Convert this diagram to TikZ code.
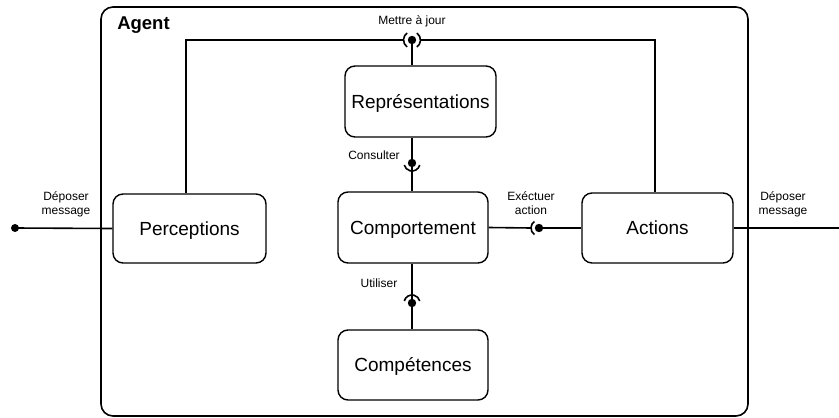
\documentclass[tikz,border=0pt]{standalone}
\usepackage{fontspec}
\setmainfont{Liberation Sans}
\begin{document}
\begin{tikzpicture}[x=1pt,y=-1pt,
  comp/.style={draw, line width=1.4pt, rounded corners=10pt, font=\fontsize{19}{21}\selectfont, inner sep=0pt, text height=13.6pt, text depth=0pt},
  lbl/.style={font=\fontsize{12}{14}\selectfont, align=center},
  wire/.style={line width=1.6pt},
  ballc/.style={fill=black}]
\useasboundingbox (0,0) rectangle (839,418);
% Agent frame
\draw[line width=1.6pt, rounded corners=12pt] (101,7) rectangle (748,416);
\node[font=\bfseries\fontsize{18.5}{20}\selectfont] (agent) at (143.5,25) {Agent};
% components
\node[comp, minimum width=151pt, minimum height=71pt] (rep) at (420.5,101.5) {Représentations};
\node[comp, minimum width=150pt, minimum height=71pt] (comp) at (413,227.5) {Comportement};
\node[comp, minimum width=150pt, minimum height=70pt] (cpt) at (413,365) {Compétences};
\node[comp, minimum width=153pt, minimum height=69pt] (perc) at (189.5,228.5) {Perceptions};
\node[comp, minimum width=151pt, minimum height=70pt] (act) at (657.5,228) {Actions};
% coordinates of ball-and-socket joints
\coordinate (mj) at (412,40);
\coordinate (cs) at (412,163);
\coordinate (ex) at (539,228);
\coordinate (ut) at (412,303);
\coordinate (lin) at (15,228);
\coordinate (rout) at (839,228);
% Mettre a jour
\draw[wire] (perc.north -| 186,0) |- ([xshift=-8.5pt]mj);
\draw[wire] (act.north -| 655,0) |- ([xshift=8.5pt]mj);
\draw[wire] (mj) -- (rep.north -| mj);
\draw[wire] ([shift={(125:8.5)}]mj) arc[start angle=125, end angle=235, radius=8.5];
\draw[wire] ([shift={(-55:8.5)}]mj) arc[start angle=-55, end angle=55, radius=8.5];
\fill[ballc] (mj) circle (4.2);
\node[lbl] (lmj) at (412,21) {Mettre à jour};
% Consulter
\draw[wire] (rep.south -| cs) -- (cs);
\draw[wire] ([shift={(15:8)}]cs) arc[start angle=15, end angle=165, radius=8];
\draw[wire] ([yshift=8pt]cs) -- (comp.north -| cs);
\fill[ballc] (cs) circle (4.2);
\node[lbl] (lcs) at (374,155) {Consulter};
% Executer action
\draw[wire] (comp.east) -- ([xshift=-8pt]ex);
\draw[wire] ([shift={(125:8)}]ex) arc[start angle=125, end angle=235, radius=8];
\draw[wire] (ex) -- (act.west);
\fill[ballc] (ex) circle (4.2);
\node[lbl] (lex) at (531,203) {Exéctuer\\action};
% Utiliser
\draw[wire] (comp.south -| ut) -- ([yshift=-8pt]ut);
\draw[wire] ([shift={(195:8)}]ut) arc[start angle=195, end angle=345, radius=8];
\draw[wire] (ut) -- (cpt.north -| ut);
\fill[ballc] (ut) circle (4.2);
\node[lbl] (lut) at (379,283) {Utiliser};
% external ports
\draw[wire] (lin) -- (perc.west);
\fill[ballc] (lin) circle (4);
\node[lbl] (lin-l) at (66,204) {Déposer\\message};
\draw[wire] (act.east) -- (rout);
\node[lbl] (rout-l) at (783,204) {Déposer\\message};
\end{tikzpicture}
\end{document}
